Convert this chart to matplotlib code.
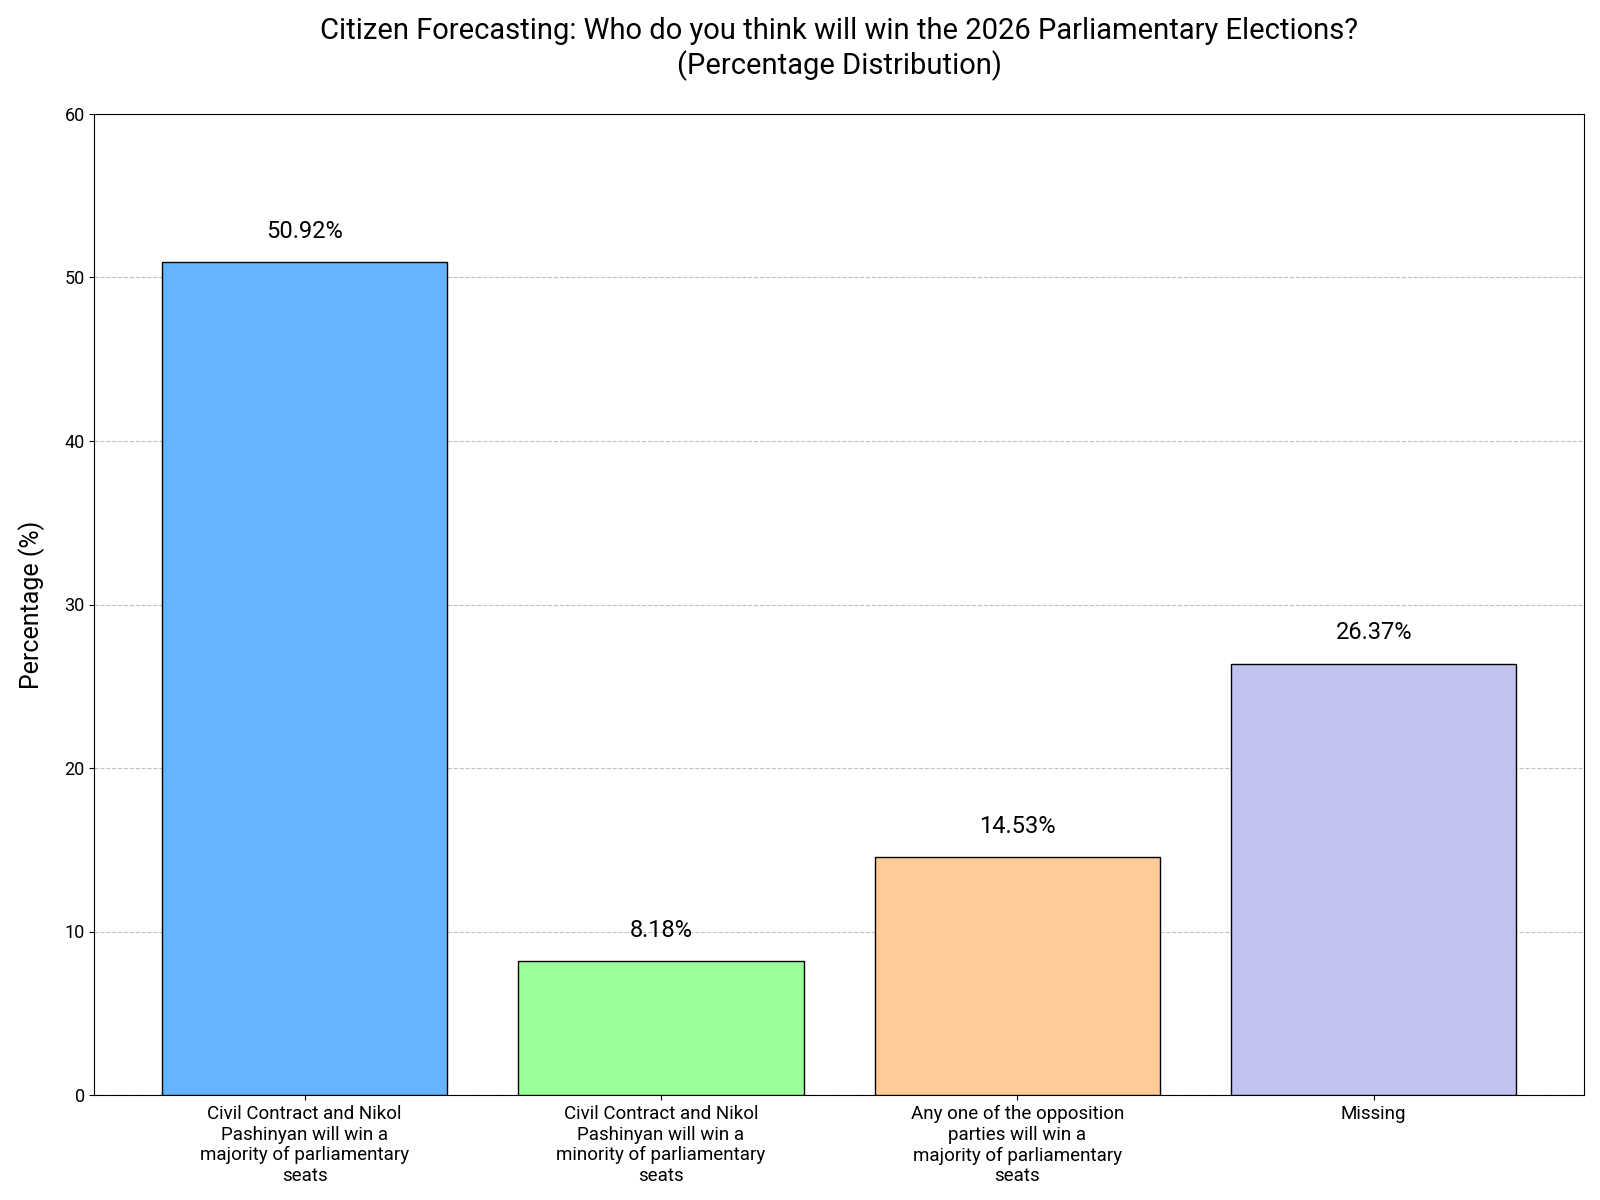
import matplotlib

matplotlib.use("Agg")
import matplotlib.pyplot as plt

plt.rcParams["font.family"] = ["Roboto", "DejaVu Sans"]

categories = [
    "Civil Contract and Nikol\nPashinyan will win a\nmajority of parliamentary\nseats",
    "Civil Contract and Nikol\nPashinyan will win a\nminority of parliamentary\nseats",
    "Any one of the opposition\nparties will win a\nmajority of parliamentary\nseats",
    "Missing",
]
percentages = [50.92, 8.18, 14.53, 26.37]
colors = ["#66b3ff", "#99ff99", "#ffcc99", "#c2c2f0"]

fig, ax = plt.subplots(figsize=(16, 12), dpi=100)
fig.subplots_adjust(left=0.059, right=0.99, top=0.905, bottom=0.0875)

bars = ax.bar(range(len(categories)), percentages, color=colors, edgecolor="black", width=0.8, zorder=3)

for bar, val in zip(bars, percentages):
    ax.text(bar.get_x() + bar.get_width() / 2, val + 1.2, f"{val:.2f}%",
            ha="center", va="bottom", fontsize=17)

ax.set_xticks(range(len(categories)))
ax.set_xticklabels(categories, fontsize=13.5)
ax.tick_params(axis="y", labelsize=13)
ax.set_ylim(0, 60)
ax.set_ylabel("Percentage (%)", fontsize=18, labelpad=14)
ax.set_title("Citizen Forecasting: Who do you think will win the 2026 Parliamentary Elections?\n(Percentage Distribution)",
             fontsize=21, pad=29)
ax.yaxis.grid(True, linestyle="--", color="#bbbbbb", alpha=0.9, zorder=0)

fig.savefig("out.png")
plt.close(fig)
